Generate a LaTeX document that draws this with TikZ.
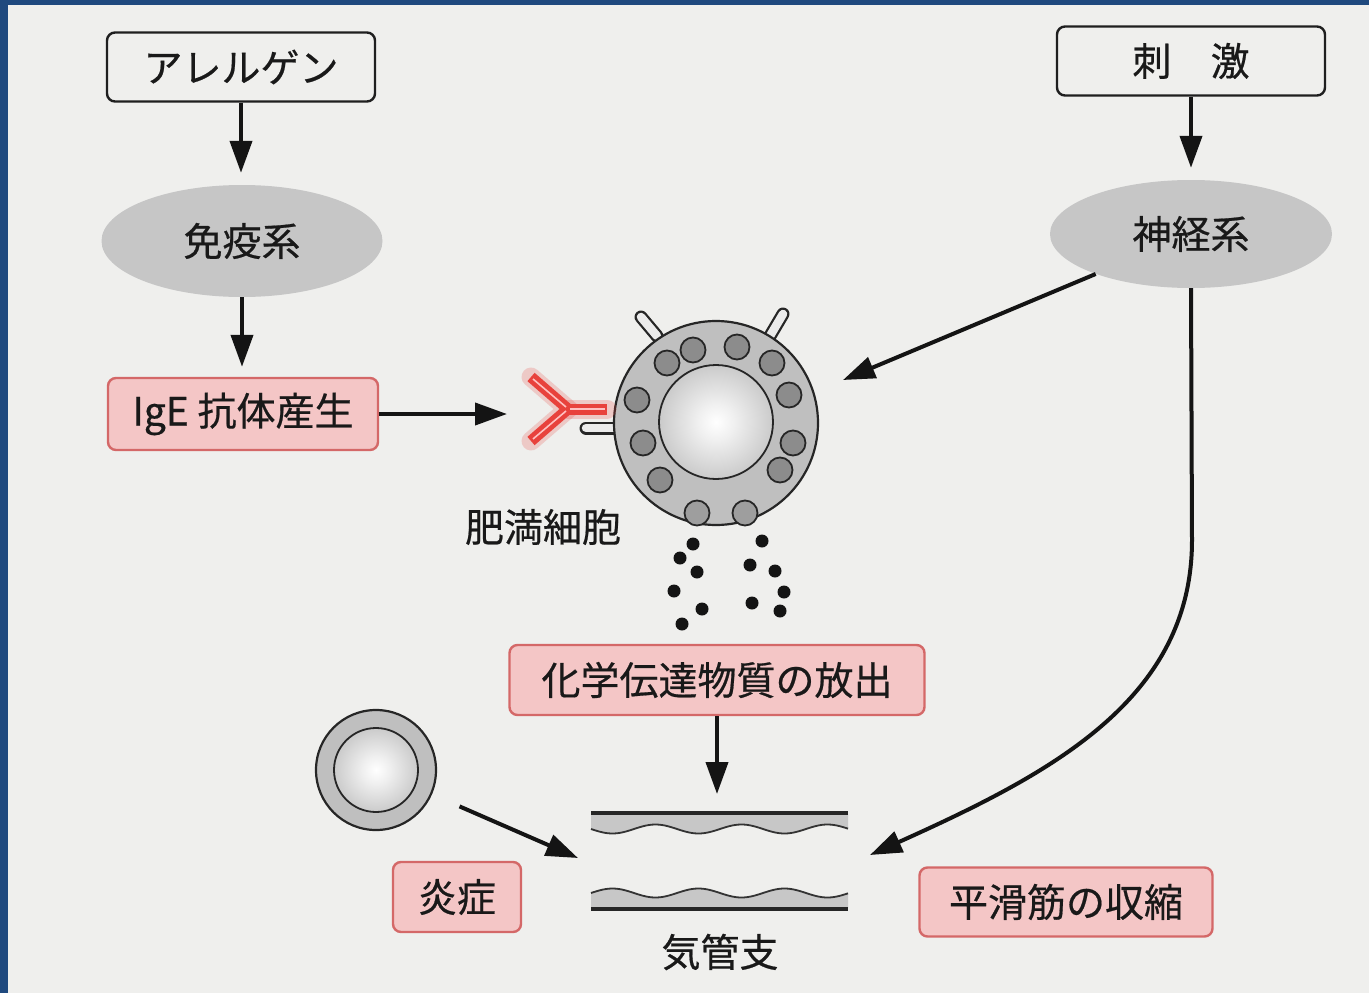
\documentclass[tikz,border=0pt]{standalone}
\usepackage{fontspec}
\setmainfont{Noto Sans CJK JP}[FakeBold=0.5]
\usetikzlibrary{arrows.meta,shapes.geometric,calc}

\definecolor{paper}{RGB}{239,239,237}
\definecolor{frameblue}{RGB}{31,73,126}
\definecolor{pinkfill}{RGB}{244,198,198}
\definecolor{pinkline}{RGB}{212,104,104}
\definecolor{ovalgray}{RGB}{198,198,198}
\definecolor{abred}{RGB}{232,66,60}

\pgfdeclareradialshading{nucleus}{\pgfpoint{0bp}{0bp}}{%
  color(0bp)=(white); color(8bp)=(white!94!black);
  color(50bp)=(black!42); color(100bp)=(black!42)}

\begin{document}
\begin{tikzpicture}[x=1pt,y=-1pt,
  txt/.style={font=\fontsize{39}{42}\selectfont, text=black!90},
  wbox/.style={txt, draw=black!88, line width=2.4pt, rounded corners=8pt,
    fill=paper, minimum height=69pt, inner sep=0pt},
  pbox/.style={txt, draw=pinkline, line width=2.4pt, rounded corners=8pt,
    fill=pinkfill, minimum height=70pt, inner sep=0pt},
  oval/.style={txt, ellipse, fill=ovalgray, inner sep=0pt},
  lbl/.style={txt, inner sep=0pt},
  arr/.style={line width=4pt, draw=black!92, -{Triangle[length=32pt,width=22pt]}},
  granule/.style={fill=black!45, draw=black!85, line width=1.8pt},
  dot/.style={fill=black!92},
  rodout/.style={line width=13pt, line cap=round, draw=black!85},
  rodin/.style={line width=8.5pt, line cap=round, draw=black!8},
  cellring/.style={circle, fill=black!25, draw=black!85, line width=2.2pt, inner sep=0pt},
  nuc/.style={shading=nucleus, draw=black!85, line width=1.8pt},
  abglow/.style={line width=19pt, draw=abred, opacity=0.22},
  abbar/.style={line width=11pt, draw=abred},
  abline/.style={line width=1.6pt, draw=red!25!white},
]
% page and frame
\useasboundingbox (0,0) rectangle (1369,993);
\fill[paper] (0,0) rectangle (1369,993);
\fill[frameblue] (0,0) rectangle (8,993);
\fill[frameblue] (0,0) rectangle (1369,5);

% top boxes and ovals
\node[wbox, minimum width=268pt] (allergen) at (241,67) {アレルゲン};
\node[wbox, minimum width=268pt] (stim) at (1191,61) {刺\hspace{1em}激};
\node[oval, minimum width=281pt, minimum height=112pt] (immune) at (242,241) {免疫系};
\node[oval, minimum width=282pt, minimum height=108pt] (nerve) at (1191,234) {神経系};
\node[pbox, minimum width=270pt, minimum height=72pt] (ige) at (243,414) {IgE 抗体産生};

% mast cell: receptors behind the cell body
\draw[rodout] (657,336) -- (641,317);
\draw[rodin]  (657,336) -- (641,317);
\draw[rodout] (770,336) -- (783,314);
\draw[rodin]  (770,336) -- (783,314);
\draw[rodout] (625,428) -- (586,428);
\draw[rodin]  (625,428) -- (586,428);
\node[cellring, minimum size=204pt] (mastcell) at (716,423) {};
\fill[nuc] (716,422) circle[radius=57pt];
\foreach \p in {(693,350),(737,347),(667,363),(772,363),(637,400),(789,395),
                (643,443),(793,443),(660,480),(780,470)}
  \filldraw[granule] \p circle[radius=12.5pt];
\filldraw[granule, fill=black!38] (697,513) circle[radius=12.5pt];
\filldraw[granule, fill=black!38] (745,513) circle[radius=12.5pt];

% IgE antibody bound to the receptor
\coordinate (abj) at (568,409);
\draw[abglow, line cap=round] (531,377) -- (abj) -- (531,441);
\draw[abglow, line cap=round] (abj) -- (607,409);
\draw[abbar] (531,377) -- (abj);
\draw[abbar] (531,441) -- (abj);
\draw[abbar] (abj) -- (607,409);
\draw[abline] (533,379) -- (566,407);
\draw[abline] (533,439) -- (566,411);
\draw[abline] (570,409) -- (605,409);
\coordinate (abtip) at (507,414);

\node[lbl] (mast) at (543,527) {肥満細胞};

% released mediators
\foreach \p in {(693,544),(680,558),(697,572),(674,591),(702,609),(682,624),
                (762,541),(750,565),(775,571),(784,592),(752,603),(780,611)}
  \fill[dot] \p circle[radius=6.5pt];

\node[pbox, minimum width=415pt] (chem) at (717,680) {化学伝達物質の放出};

% inflammatory cell
\node[cellring, minimum size=120pt] (icell) at (376,770) {};
\fill[nuc] (376,770) circle[radius=42pt];

% bronchus wall
\fill[black!22] (591,814) -- (848,814) --
  plot[domain=848:591, samples=90] (\x, {829+4.5*sin((\x-591)*4.186)}) -- cycle;
\draw[line width=1.8pt, black!80] plot[domain=591:848, samples=90]
  (\x, {829+4.5*sin((\x-591)*4.186)});
\draw[line width=3.4pt, black!85] (591,813) -- (848,813);
\fill[black!22] (591,908) -- (848,908) --
  plot[domain=848:591, samples=90] (\x, {893-4.5*sin((\x-591)*4.186)}) -- cycle;
\draw[line width=1.8pt, black!80] plot[domain=591:848, samples=90]
  (\x, {893-4.5*sin((\x-591)*4.186)});
\draw[line width=3.4pt, black!85] (591,909) -- (848,909);
\node[lbl] (bronch) at (720,952) {気管支};

\node[pbox, minimum width=128pt] (inflam) at (457,897) {炎症};
\node[pbox, minimum width=293pt, minimum height=69pt] (smooth) at (1066,902) {平滑筋の収縮};

% connectors
\coordinate (cellne) at (843,380);
\coordinate (bronchtop) at (717,794);
\coordinate (bronchleft) at (578,858);
\coordinate (bronchright) at (870,855);
\draw[arr, shorten >=12pt] (allergen.south) -- (allergen.south |- immune.north);
\draw[arr, shorten >=10pt] (immune.south) -- (immune.south |- ige.north);
\draw[arr] (ige.east) -- (abtip);
\draw[arr, shorten >=12pt] (stim.south) -- (stim.south |- nerve.north);
\draw[arr] (nerve) -- (cellne);
\draw[arr] (nerve.south) -- (1192,540) .. controls (1192,700) and (1050,774) .. (bronchright);
\draw[arr] (chem.south) -- (bronchtop);
\draw[arr, shorten <=30pt] (icell) -- (bronchleft);
\end{tikzpicture}
\end{document}
